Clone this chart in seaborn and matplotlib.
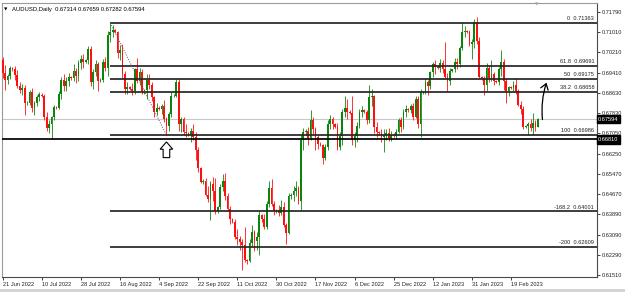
import numpy as np
import pandas as pd
import matplotlib
matplotlib.use("Agg")
import matplotlib.pyplot as plt
import seaborn as sns
from matplotlib.patches import Polygon, Rectangle
from matplotlib.transforms import ScaledTranslation

sns.set_theme(style="white")
plt.rcParams['font.family'] = ['Liberation Sans', 'DejaVu Sans']

# ---------------- data (AUDUSD daily) ----------------
opens = [
    0.6991, 0.6940, 0.6913, 0.6929, 0.6960, 0.6955, 0.6933, 0.6890, 0.6874, 0.6882,
    0.6823, 0.6825, 0.6866, 0.6804, 0.6822, 0.6847, 0.6856, 0.6850, 0.6768, 0.6725,
    0.6741, 0.6768, 0.6808, 0.6805, 0.6860, 0.6915, 0.6890, 0.6910, 0.6925, 0.6920,
    0.6950, 0.6930, 0.6980, 0.6995, 0.6985, 0.6990, 0.7035, 0.6905, 0.6945, 0.6975,
    0.6910, 0.6915, 0.6985, 0.6960, 0.7090, 0.7100, 0.7108, 0.7100, 0.7020, 0.7030,
    0.6935, 0.6880, 0.6885, 0.6880, 0.6870, 0.6955, 0.6910, 0.6945, 0.6870, 0.6875,
    0.6915, 0.6895, 0.6845, 0.6790, 0.6805, 0.6800, 0.6810, 0.6760, 0.6735, 0.6780,
    0.6850, 0.6852, 0.6905, 0.6740, 0.6760, 0.6710, 0.6705, 0.6700, 0.6715, 0.6690,
    0.6640, 0.6570, 0.6515, 0.6520, 0.6465, 0.6450, 0.6505, 0.6480, 0.6400, 0.6415,
    0.6495, 0.6520, 0.6460, 0.6410, 0.6370, 0.6360, 0.6300, 0.6290, 0.6280, 0.6270,
    0.6210, 0.6205, 0.6275, 0.6320, 0.6285, 0.6300, 0.6385, 0.6370, 0.6340, 0.6430,
    0.6490, 0.6430, 0.6400, 0.6405, 0.6395, 0.6415, 0.6345, 0.6315, 0.6460, 0.6465,
    0.6480, 0.6490, 0.6440, 0.6680, 0.6710, 0.6715, 0.6685, 0.6755, 0.6720, 0.6690,
    0.6665, 0.6660, 0.6610, 0.6650, 0.6740, 0.6760, 0.6740, 0.6730, 0.6650, 0.6695,
    0.6790, 0.6805, 0.6790, 0.6785, 0.6680, 0.6695, 0.6735, 0.6790, 0.6795, 0.6790,
    0.6755, 0.6845, 0.6850, 0.6730, 0.6710, 0.6705, 0.6690, 0.6700, 0.6705, 0.6685,
    0.6700, 0.6695, 0.6710, 0.6755, 0.6730, 0.6790, 0.6800, 0.6795, 0.6810, 0.6770,
    0.6840, 0.6740, 0.6865, 0.6868, 0.6905, 0.6890, 0.6945, 0.6975, 0.6965, 0.6960,
    0.6980, 0.6955, 0.6925, 0.6910, 0.6950, 0.6955, 0.6985, 0.6975, 0.7040, 0.7100,
    0.7105, 0.7100, 0.7055, 0.7060, 0.7140, 0.7065, 0.6925, 0.6920, 0.6895, 0.6960,
    0.6920, 0.6935, 0.6910, 0.6905, 0.6955, 0.6985, 0.6910, 0.6870, 0.6885, 0.6882,
    0.6895, 0.6870, 0.6815, 0.6800, 0.6730, 0.6735, 0.6740, 0.6725, 0.6745, 0.67314,
]
highs = [
    0.7003, 0.6972, 0.6937, 0.6968, 0.6964, 0.6968, 0.6952, 0.6905, 0.6897, 0.6894,
    0.6830, 0.6874, 0.6882, 0.6830, 0.6854, 0.6866, 0.6862, 0.6858, 0.6788, 0.6757,
    0.6772, 0.6815, 0.6812, 0.6870, 0.6925, 0.6935, 0.6925, 0.6940, 0.6930, 0.6975,
    0.6960, 0.6990, 0.7010, 0.7015, 0.6995, 0.7045, 0.7047, 0.6955, 0.6990, 0.6985,
    0.6920, 0.6995, 0.7003, 0.7105, 0.7136, 0.7130, 0.7112, 0.7105, 0.7050, 0.7055,
    0.6950, 0.6905, 0.6890, 0.6900, 0.6960, 0.7000, 0.6960, 0.6955, 0.6880, 0.6935,
    0.6935, 0.6905, 0.6850, 0.6825, 0.6810, 0.6820, 0.6835, 0.6770, 0.6790, 0.6865,
    0.6858, 0.6917, 0.6918, 0.6770, 0.6770, 0.6740, 0.6710, 0.6725, 0.6740, 0.6710,
    0.6650, 0.6575, 0.6525, 0.6530, 0.6500, 0.6520, 0.6535, 0.6530, 0.6420, 0.6505,
    0.6545, 0.6548, 0.6470, 0.6420, 0.6375, 0.6370, 0.6330, 0.6305, 0.6290, 0.6340,
    0.6215, 0.6290, 0.6345, 0.6325, 0.6320, 0.6400, 0.6390, 0.6390, 0.6440, 0.6520,
    0.6525, 0.6440, 0.6410, 0.6425, 0.6445, 0.6435, 0.6355, 0.6470, 0.6470, 0.6500,
    0.6520, 0.6500, 0.6700, 0.6725, 0.6720, 0.6730, 0.6797, 0.6770, 0.6730, 0.6700,
    0.6670, 0.6665, 0.6665, 0.6755, 0.6775, 0.6770, 0.6745, 0.6745, 0.6710, 0.6800,
    0.6850, 0.6840, 0.6795, 0.6850, 0.6710, 0.6750, 0.6800, 0.6810, 0.6800, 0.6795,
    0.6893, 0.6880, 0.6855, 0.6750, 0.6715, 0.6720, 0.6720, 0.6720, 0.6725, 0.6715,
    0.6705, 0.6720, 0.6765, 0.6770, 0.6800, 0.6815, 0.6805, 0.6820, 0.6825, 0.6850,
    0.6850, 0.6880, 0.6872, 0.6920, 0.6915, 0.6950, 0.6985, 0.6990, 0.6970, 0.6995,
    0.6990, 0.7063, 0.6940, 0.6960, 0.6958, 0.7000, 0.7000, 0.7045, 0.7140, 0.7125,
    0.7110, 0.7110, 0.7075, 0.7150, 0.7158, 0.7080, 0.6930, 0.6930, 0.6980, 0.6970,
    0.6990, 0.6945, 0.6915, 0.6965, 0.7030, 0.6995, 0.6920, 0.6890, 0.6890, 0.6910,
    0.6920, 0.6880, 0.6830, 0.6810, 0.6738, 0.6750, 0.6760, 0.6785, 0.6755, 0.67659,
]
lows = [
    0.6921, 0.6874, 0.6897, 0.6917, 0.6950, 0.6913, 0.6882, 0.6862, 0.6854, 0.6776,
    0.6815, 0.6815, 0.6788, 0.6776, 0.6810, 0.6830, 0.6845, 0.6757, 0.6714, 0.6706,
    0.6682, 0.6755, 0.6800, 0.6800, 0.6840, 0.6870, 0.6870, 0.6890, 0.6915, 0.6910,
    0.6900, 0.6910, 0.6955, 0.6960, 0.6980, 0.6975, 0.6890, 0.6880, 0.6930, 0.6870,
    0.6905, 0.6905, 0.6950, 0.6930, 0.7060, 0.7080, 0.7095, 0.7000, 0.6990, 0.6920,
    0.6860, 0.6860, 0.6875, 0.6855, 0.6860, 0.6900, 0.6895, 0.6860, 0.6860, 0.6840,
    0.6880, 0.6830, 0.6770, 0.6775, 0.6795, 0.6780, 0.6750, 0.6699, 0.6715, 0.6770,
    0.6845, 0.6845, 0.6715, 0.6710, 0.6700, 0.6690, 0.6695, 0.6670, 0.6680, 0.6600,
    0.6555, 0.6510, 0.6505, 0.6460, 0.6435, 0.6365, 0.6440, 0.6390, 0.6395, 0.6410,
    0.6480, 0.6445, 0.6400, 0.6350, 0.6355, 0.6290, 0.6270, 0.6250, 0.6170, 0.6200,
    0.6195, 0.6200, 0.6265, 0.6245, 0.6250, 0.6230, 0.6360, 0.6330, 0.6330, 0.6415,
    0.6420, 0.6385, 0.6395, 0.6380, 0.6385, 0.6340, 0.6272, 0.6310, 0.6450, 0.6440,
    0.6460, 0.6430, 0.6405, 0.6640, 0.6700, 0.6660, 0.6680, 0.6700, 0.6640, 0.6645,
    0.6655, 0.6585, 0.6600, 0.6640, 0.6720, 0.6720, 0.6725, 0.6640, 0.6640, 0.6660,
    0.6770, 0.6760, 0.6780, 0.6660, 0.6650, 0.6670, 0.6725, 0.6770, 0.6785, 0.6740,
    0.6745, 0.6810, 0.6705, 0.6690, 0.6700, 0.6670, 0.6630, 0.6680, 0.6675, 0.6675,
    0.6690, 0.6685, 0.6705, 0.6710, 0.6720, 0.6770, 0.6790, 0.6785, 0.6755, 0.6765,
    0.6725, 0.6690, 0.6858, 0.6860, 0.6855, 0.6880, 0.6925, 0.6935, 0.6955, 0.6945,
    0.6940, 0.6920, 0.6870, 0.6895, 0.6945, 0.6945, 0.6955, 0.6965, 0.7030, 0.7080,
    0.7095, 0.7045, 0.6995, 0.7040, 0.7055, 0.6920, 0.6915, 0.6855, 0.6870, 0.6905,
    0.6910, 0.6895, 0.6900, 0.6895, 0.6930, 0.6875, 0.6825, 0.6850, 0.6878, 0.6870,
    0.6860, 0.6810, 0.6780, 0.6720, 0.6725, 0.6700, 0.6715, 0.6700, 0.6715, 0.67282,
]
closes = [
    0.6940, 0.6913, 0.6929, 0.6960, 0.6955, 0.6933, 0.6890, 0.6874, 0.6882, 0.6823,
    0.6825, 0.6866, 0.6804, 0.6822, 0.6847, 0.6858, 0.6850, 0.6768, 0.6725, 0.6741,
    0.6768, 0.6808, 0.6805, 0.6860, 0.6915, 0.6890, 0.6910, 0.6925, 0.6920, 0.6950,
    0.6930, 0.6980, 0.6995, 0.6985, 0.6990, 0.7035, 0.6905, 0.6945, 0.6975, 0.6910,
    0.6915, 0.6985, 0.6960, 0.7090, 0.7100, 0.7110, 0.7100, 0.7020, 0.7030, 0.6935,
    0.6880, 0.6885, 0.6880, 0.6870, 0.6955, 0.6910, 0.6945, 0.6870, 0.6875, 0.6915,
    0.6895, 0.6845, 0.6790, 0.6805, 0.6800, 0.6810, 0.6760, 0.6735, 0.6780, 0.6850,
    0.6852, 0.6905, 0.6740, 0.6760, 0.6710, 0.6705, 0.6700, 0.6715, 0.6690, 0.6640,
    0.6570, 0.6515, 0.6520, 0.6465, 0.6450, 0.6505, 0.6480, 0.6400, 0.6415, 0.6495,
    0.6520, 0.6460, 0.6410, 0.6370, 0.6360, 0.6300, 0.6290, 0.6280, 0.6270, 0.6210,
    0.6205, 0.6275, 0.6320, 0.6285, 0.6300, 0.6385, 0.6370, 0.6340, 0.6430, 0.6490,
    0.6430, 0.6400, 0.6405, 0.6395, 0.6415, 0.6345, 0.6315, 0.6460, 0.6465, 0.6480,
    0.6490, 0.6440, 0.6680, 0.6710, 0.6715, 0.6685, 0.6755, 0.6720, 0.6690, 0.6665,
    0.6660, 0.6610, 0.6650, 0.6740, 0.6760, 0.6740, 0.6730, 0.6650, 0.6695, 0.6790,
    0.6805, 0.6790, 0.6785, 0.6680, 0.6695, 0.6735, 0.6790, 0.6795, 0.6790, 0.6755,
    0.6845, 0.6850, 0.6730, 0.6710, 0.6705, 0.6690, 0.6700, 0.6705, 0.6685, 0.6700,
    0.6695, 0.6710, 0.6755, 0.6730, 0.6790, 0.6800, 0.6795, 0.6810, 0.6770, 0.6840,
    0.6740, 0.6865, 0.6868, 0.6905, 0.6890, 0.6945, 0.6975, 0.6965, 0.6960, 0.6980,
    0.6955, 0.6925, 0.6910, 0.6950, 0.6955, 0.6985, 0.6975, 0.7040, 0.7100, 0.7105,
    0.7100, 0.7055, 0.7060, 0.7140, 0.7065, 0.6925, 0.6920, 0.6895, 0.6960, 0.6920,
    0.6935, 0.6910, 0.6905, 0.6955, 0.6985, 0.6910, 0.6870, 0.6885, 0.6882, 0.6895,
    0.6870, 0.6815, 0.6800, 0.6730, 0.6735, 0.6740, 0.6725, 0.6745, 0.67314, 0.67594,
]

date_labels = ["21 Jun 2022", "10 Jul 2022", "28 Jul 2022", "16 Aug 2022", "4 Sep 2022",
               "22 Sep 2022", "11 Oct 2022", "30 Oct 2022", "17 Nov 2022", "6 Dec 2022",
               "25 Dec 2022", "12 Jan 2023", "31 Jan 2023", "19 Feb 2023"]
date_label_bars = [0, 16, 32, 48, 64, 80, 96, 112, 128, 144, 160, 176, 192, 208]

price_ticks = [0.71790, 0.71010, 0.70210, 0.69410, 0.68630, 0.67830, 0.67050,
               0.66250, 0.65470, 0.64670, 0.63890, 0.63090, 0.62290, 0.61510]

fib_names = ["0", "61.8", "50", "38.2", "100", "-168.2", "-200"]
fib_prices = [0.71363, 0.69691, 0.69175, 0.68658, 0.66986, 0.64001, 0.62609]
fib_start_bar = 44
swing_bars = [44, 67]
swing_prices = [0.71363, 0.66986]

support_level = 0.66810
symbol_title = "AUDUSD,Daily"

# ---------------- table ----------------
df = pd.DataFrame({"bar": np.arange(len(closes)), "open": opens, "high": highs,
                   "low": lows, "close": closes})
df["high"] = df[["open", "high", "close"]].max(axis=1)
df["low"] = df[["open", "low", "close"]].min(axis=1)
df["dir"] = np.where(df["close"] >= df["open"], "up", "down")
palette = {"up": "#0b840b", "down": "#ff1010"}
cols = df["dir"].map(palette)
last = df.iloc[-1]

# ---------------- figure ----------------
W, H = 625, 292
fig = plt.figure(figsize=(W / 100, H / 100), dpi=100)
fig.patch.set_facecolor("white")
ax = fig.add_axes([2 / W, (H - 277) / H, 595 / W, 274 / H])
ax.set_facecolor("white")
ax.set_xlim(-0.29, 243.2)
ax.set_ylim(0.61432, 0.72142)

# current price line
ax.axhline(last["close"], color="#c8c8c8", lw=0.8, zorder=1)

# candles
ax.vlines(df["bar"], df["low"], df["high"], colors=cols, lw=0.7, alpha=0.85, zorder=3)
body = (df["close"] - df["open"]).abs().clip(lower=0.00012)
ax.bar(df["bar"], body, bottom=np.minimum(df["open"], df["close"]), width=0.72,
       color=cols, linewidth=0, zorder=4)

# fibonacci levels
for name, p in zip(fib_names, fib_prices):
    ax.hlines(p, fib_start_bar, 243.2, color="#262626", lw=1.25, zorder=5)
    ax.annotate(f"{name}  {p:.5f}", xy=(1.0, p), xycoords=ax.get_yaxis_transform(),
                xytext=(-2, 1.2), textcoords="offset points", ha="right", va="bottom",
                fontsize=4.1, color="#222222", zorder=6)

# support line
ax.axhline(support_level, color="black", lw=1.25, zorder=5)

# swing dotted line
sns.lineplot(x=swing_bars, y=swing_prices, ax=ax, color="#555555", lw=0.7,
             linestyle=(0, (1, 1.6)), zorder=6)

# hollow up arrow under the swing low
arrow_pts = np.array([[0, -7], [6.3, -14.3], [3.3, -14.3], [3.3, -22.7],
                      [-3.3, -22.7], [-3.3, -14.3], [-6.3, -14.3]]) / 100.0
tr = fig.dpi_scale_trans + ScaledTranslation(swing_bars[1], swing_prices[1], ax.transData)
ax.add_patch(Polygon(arrow_pts, closed=True, transform=tr, facecolor="white",
                     edgecolor="black", lw=0.8, zorder=7))

# hand-drawn arrow at the right
ax.annotate("", xy=(222.9, 0.6913), xytext=(221.0, 0.6748),
            arrowprops=dict(arrowstyle="->,head_length=0.5,head_width=0.35",
                            lw=0.9, color="black", mutation_scale=8,
                            connectionstyle="arc3,rad=-0.12"), zorder=7)

# axes styling
for s in ["left", "top"]:
    ax.spines[s].set_color("#9a9a9a")
    ax.spines[s].set_linewidth(0.8)
for s in ["right", "bottom"]:
    ax.spines[s].set_color("#4a4a4a")
    ax.spines[s].set_linewidth(0.8)

ax.yaxis.tick_right()
ax.set_yticks(price_ticks)
ax.set_yticklabels([f"{v:.5f}" for v in price_ticks])
ax.tick_params(axis="y", which="both", left=False, right=True, labelleft=False,
               labelright=True, length=2, width=0.6, pad=1.2, labelsize=4.1,
               colors="#222222")
ax.set_xticks(date_label_bars)
ax.set_xticklabels(date_labels)
ax.tick_params(axis="x", bottom=True, length=2.5, width=0.6, pad=1.0,
               labelsize=4.1, colors="#222222")
for lab in ax.get_xticklabels():
    lab.set_horizontalalignment("left")
ax.set_xlabel("")
ax.set_ylabel("")
ax.grid(False)

# price boxes on the right axis
for val in [last["close"], support_level]:
    ax.text(1.002, val, f"{val:.5f}", transform=ax.get_yaxis_transform(),
            ha="left", va="center", fontsize=4.1, color="white", clip_on=False,
            bbox=dict(boxstyle="square,pad=0.28", fc="black", ec="black"), zorder=8)

# header
fig.text(4 / W, 1 - 9.5 / H, "\u25bc", fontsize=3.2, color="black",
         va="center", ha="left", family=["DejaVu Sans"])
fig.text(12 / W, 1 - 9.5 / H,
         f"{symbol_title}  {last['open']:.5f} {last['high']:.5f} {last['low']:.5f} {last['close']:.5f}",
         fontsize=4.2, color="black", va="center", ha="left")
fig.text(537 / W, 1 - 5 / H, "\u25bc", fontsize=3.2, color="#a0a0a0",
         va="center", ha="center", family=["DejaVu Sans"])

# bottom window border
fig.patches.append(Rectangle((0, 0), 1, 3 / H, transform=fig.transFigure,
                             facecolor="#d4d4d4", edgecolor="none"))

fig.savefig("out.png", dpi=100)
